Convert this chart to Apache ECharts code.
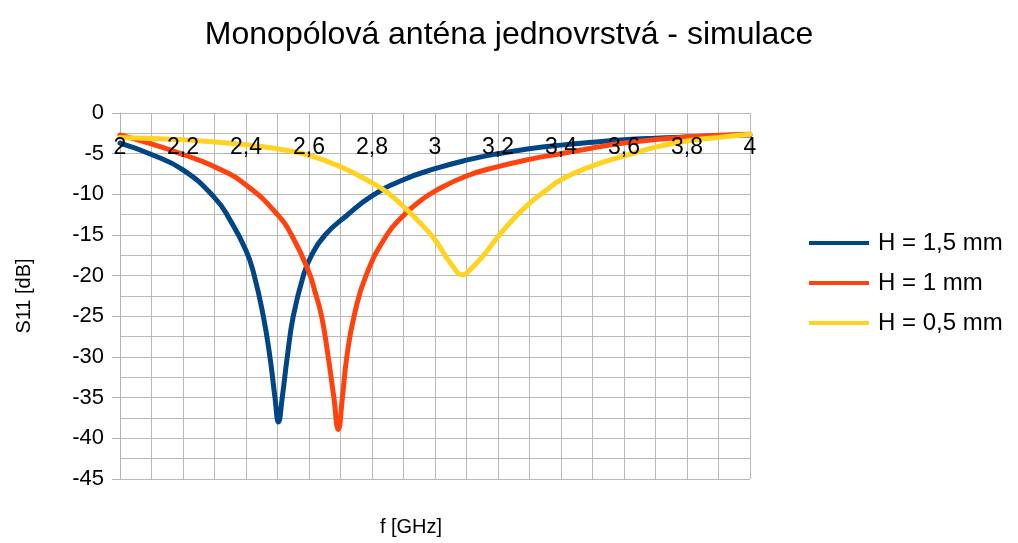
<!DOCTYPE html>
<html><head><meta charset="utf-8">
<script src="https://cdn.jsdelivr.net/npm/echarts@6/dist/echarts.min.js"></script>
<style>html,body{margin:0;padding:0;background:#fff}#c{width:1018px;height:543px}</style>
</head><body><div id="c"></div>
<script>
const seriesNames = ['H = 1,5 mm', 'H = 1 mm', 'H = 0,5 mm'];
const colors = ['#004586', '#ff420e', '#ffd320'];

const fBlue = [2.0, 2.1, 2.2, 2.3, 2.35, 2.4, 2.425, 2.455, 2.476, 2.492, 2.503, 2.515, 2.531, 2.55, 2.582, 2.608, 2.651, 2.72, 2.8, 2.9, 3.0, 3.1, 3.2, 3.3, 3.4, 3.5, 3.6, 3.7, 3.8, 3.9, 4.0];
const sBlue = [-3.7, -5.1, -7.0, -10.4, -13.2, -16.9, -19.8, -25.0, -30.0, -35.0, -38.0, -35.0, -30.0, -25.0, -20.0, -17.5, -15.0, -12.6, -10.2, -8.2, -6.85, -5.8, -5.0, -4.4, -3.95, -3.6, -3.3, -3.1, -2.95, -2.8, -2.7];

const fRed = [2.0, 2.1, 2.2, 2.3, 2.4, 2.5, 2.55, 2.6, 2.62, 2.64, 2.661, 2.679, 2.693, 2.706, 2.72, 2.743, 2.781, 2.847, 2.9, 2.95, 3.0, 3.1, 3.2, 3.3, 3.4, 3.5, 3.6, 3.7, 3.8, 3.9, 4.0];
const sRed = [-2.7, -3.8, -5.1, -6.6, -8.85, -12.5, -15.4, -19.6, -22.1, -25.0, -30.0, -35.0, -38.9, -35.0, -30.0, -25.0, -20.0, -15.0, -12.6, -10.9, -9.6, -7.75, -6.6, -5.7, -5.0, -4.3, -3.7, -3.25, -2.95, -2.75, -2.6];

const fYellow = [2.0, 2.2, 2.4, 2.5, 2.6, 2.7, 2.794, 2.85, 2.9, 2.95, 3.0, 3.05, 3.09, 3.1, 3.15, 3.2, 3.25, 3.3, 3.35, 3.4, 3.5, 3.6, 3.7, 3.8, 3.9, 4.0];
const sYellow = [-3.0, -3.3, -3.9, -4.4, -5.2, -6.6, -8.45, -9.8, -11.5, -13.4, -15.6, -18.5, -19.9, -19.7, -17.7, -15.2, -13.0, -11.1, -9.6, -8.2, -6.5, -5.3, -4.2, -3.45, -3.0, -2.6];

const xTicks = [2, 2.2, 2.4, 2.6, 2.8, 3, 3.2, 3.4, 3.6, 3.8, 4];
const yTicks = [0, -5, -10, -15, -20, -25, -30, -35, -40, -45];

const pairs = (f, s) => f.map((x, i) => [x, s[i]]);
const allF = [fBlue, fRed, fYellow];
const allS = [sBlue, sRed, sYellow];
const FONT = '"Liberation Sans", Arial, sans-serif';
const xFmt = v => String(Math.round(v * 10) / 10).replace('.', ',');

const chart = echarts.init(document.getElementById('c'), null, {renderer: 'canvas'});
chart.setOption({
  animation: false,
  backgroundColor: '#fff',
  title: {
    text: 'Monopólová anténa jednovrstvá - simulace',
    left: 'center', top: 14, padding: [5, 31, 5, 5],
    textStyle: {fontFamily: FONT, fontSize: 32, fontWeight: 'normal', color: '#000'}
  },
  legend: {
    orient: 'vertical', left: 809, top: 231, padding: 0,
    itemWidth: 60, itemHeight: 4, itemGap: 16,
    icon: 'rect',
    data: seriesNames,
    textStyle: {fontFamily: FONT, fontSize: 24, color: '#000', lineHeight: 24, padding: [0, 0, 0, 4]}
  },
  grid: {left: 120, top: 113, right: 268, bottom: 64},
  xAxis: [{
    type: 'value', position: 'top', min: 2, max: 4, interval: 0.2,
    name: 'f [GHz]', nameLocation: 'middle', nameGap: -424,
    nameTextStyle: {fontFamily: FONT, fontSize: 20, color: '#000', padding: [0, 48, 0, 0]},
    axisLine: {show: false},
    axisTick: {show: false},
    axisLabel: {show: false},
    splitLine: {show: true, lineStyle: {color: '#b8b8b8', width: 1}},
    minorTick: {show: false, splitNumber: 2},
    minorSplitLine: {show: true, lineStyle: {color: '#b8b8b8', width: 1}}
  }, {
    type: 'value', position: 'top', min: 2, max: 4, interval: 0.2, z: 10,
    axisLine: {show: false},
    axisTick: {show: false},
    splitLine: {show: false},
    axisLabel: {fontFamily: FONT, fontSize: 23, color: '#000', margin: -35, verticalAlign: 'middle', formatter: xFmt}
  }],
  yAxis: {
    type: 'value', min: -45, max: 0, interval: 5,
    name: 'S11 [dB]', nameLocation: 'middle', nameGap: 86, nameRotate: 90,
    nameTextStyle: {fontFamily: FONT, fontSize: 20, color: '#000'},
    axisLine: {show: true, lineStyle: {color: '#b3b3b3'}},
    axisTick: {show: true, length: 8, lineStyle: {color: '#b3b3b3'}},
    axisLabel: {fontFamily: FONT, fontSize: 22, color: '#000', margin: 16},
    splitLine: {show: true, lineStyle: {color: '#b8b8b8', width: 1}},
    minorTick: {show: false, splitNumber: 2},
    minorSplitLine: {show: true, lineStyle: {color: '#b8b8b8', width: 1}}
  },
  series: seriesNames.map((n, i) => ({
    name: n, type: 'line', xAxisIndex: 0, data: pairs(allF[i], allS[i]),
    showSymbol: false, symbol: 'none', smooth: 0.5,
    lineStyle: {color: colors[i], width: 5, cap: 'round', join: 'round'},
    itemStyle: {color: colors[i]}
  }))
});
</script></body></html>
